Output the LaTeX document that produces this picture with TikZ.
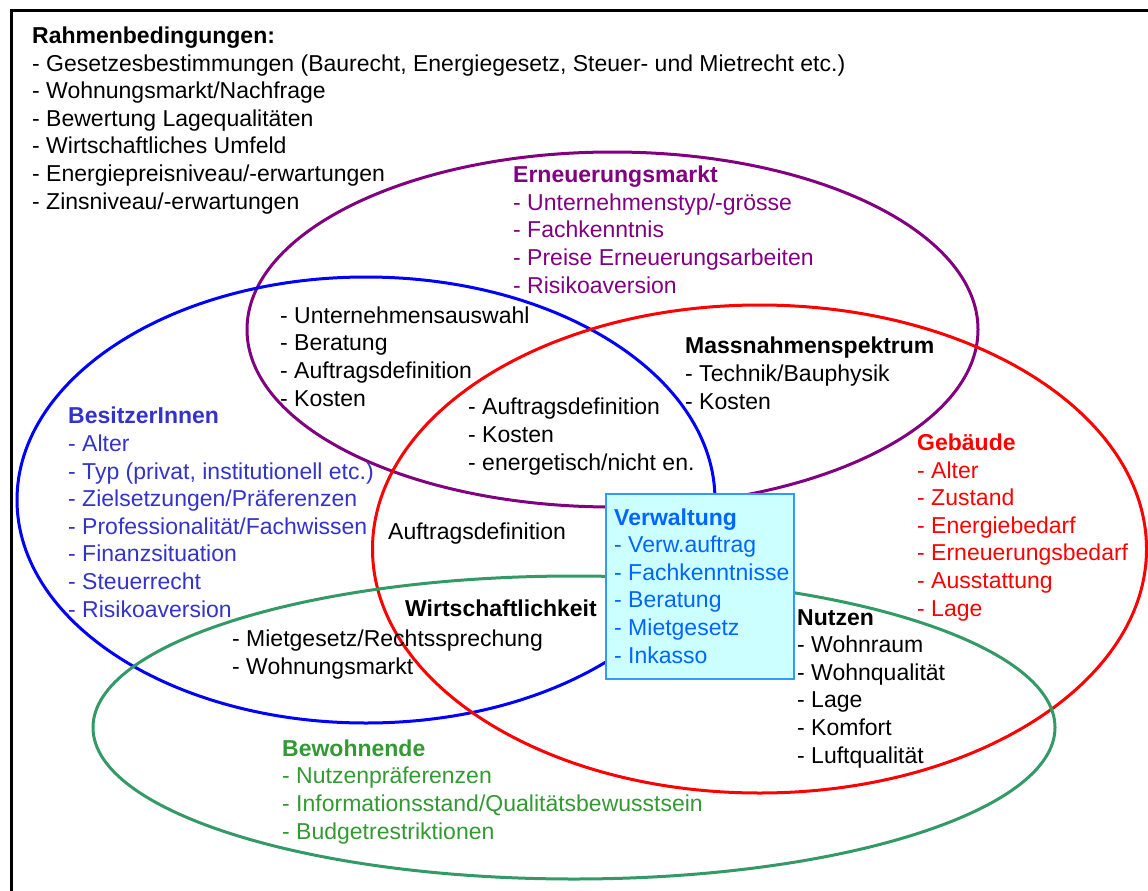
\documentclass[tikz,border=0pt]{standalone}
\usepackage{fontspec}
\setmainfont{Liberation Sans}
\usetikzlibrary{positioning,
                shapes.geometric}            % ellipse nodes

\definecolor{markt}{RGB}{128,0,128}
\definecolor{besitz}{RGB}{0,0,255}
\definecolor{besitztext}{RGB}{51,51,204}
\definecolor{bewohn}{RGB}{51,153,102}
\definecolor{bewohntext}{RGB}{51,153,51}
\definecolor{verwtext}{RGB}{0,102,255}
\definecolor{verwrand}{RGB}{51,153,255}
\definecolor{verwfill}{RGB}{204,255,255}

\tikzset{
  zone/.style={ellipse, draw, line width=3pt, inner sep=0pt},
  % base = Grundlinie der letzten Zeile
  liste/.style={anchor=base west, inner sep=0pt, align=left,
                font=\fontsize{23}{27.6}\selectfont},
}

\begin{document}
\begin{tikzpicture}[x=1pt, y=-1pt]
        \useasboundingbox (0,0) rectangle (1148,891);
        \clip (0,0) rectangle (1148,891);
        \draw[line width=3pt] (11,11) rectangle (1160,900);

        % die vier Bereiche
        \node[zone, draw=markt, minimum width=731pt, minimum height=355pt] (erneuerung) at (612.5,329.5) {};
        \node[zone, draw=besitz, minimum width=698pt, minimum height=446pt] (besitzer) at (366,500) {};
        \node[zone, draw=red, minimum width=774pt, minimum height=488pt] (gebaeude) at (759.5,549) {};
        \node[zone, draw=bewohn, minimum width=962pt, minimum height=303pt] (bewohnende) at (574,727.5) {};

        \node[liste] (rahmen) at (32,209) {\textbf{Rahmenbedingungen:}\\
          - Gesetzesbestimmungen (Baurecht, Energiegesetz, Steuer- und Mietrecht etc.)\\
          - Wohnungsmarkt/Nachfrage\\
          - Bewertung Lagequalitäten\\
          - Wirtschaftliches Umfeld\\
          - Energiepreisniveau/-erwartungen\\
          - Zinsniveau/-erwartungen};

        \node[liste, text=markt] (markttext) at (513,293) {\textbf{Erneuerungsmarkt}\\
          - Unternehmenstyp/-grösse\\
          - Fachkenntnis\\
          - Preise Erneuerungsarbeiten\\
          - Risikoaversion};

        \node[liste] (auswahl) at (280,406) {- Unternehmensauswahl\\
          - Beratung\\
          - Auftragsdefinition\\
          - Kosten};

        \node[liste] (mitte) at (468,470) {- Auftragsdefinition\\
          - Kosten\\
          - energetisch/nicht en.};

        \node[liste] (massnahmen) at (685,409) {\textbf{Massnahmenspektrum}\\
          - Technik/Bauphysik\\
          - Kosten};

        \node[liste, text=besitztext] (besitzertext) at (68,617) {\textbf{BesitzerInnen}\\
          - Alter\\
          - Typ (privat, institutionell etc.)\\
          - Zielsetzungen/Präferenzen\\
          - Professionalität/Fachwissen\\
          - Finanzsituation\\
          - Steuerrecht\\
          - Risikoaversion};

        \node[liste, text=red] (gebaeudetext) at (917,616) {\textbf{Gebäude}\\
          - Alter\\
          - Zustand\\
          - Energiebedarf\\
          - Erneuerungsbedarf\\
          - Ausstattung\\
          - Lage};

        \node[liste] (auftrag) at (388,539) {Auftragsdefinition};
        \node[liste] (wirtschaft) at (405,616) {\textbf{Wirtschaftlichkeit}};
        \node[liste] (mietrecht) at (232,674) {- Mietgesetz/Rechtssprechung\\
          - Wohnungsmarkt};

        \node[liste] (nutzen) at (797,763) {\textbf{Nutzen}\\
          - Wohnraum\\
          - Wohnqualität\\
          - Lage\\
          - Komfort\\
          - Luftqualität};

        \node[liste, text=bewohntext] (bewohntext) at (282,839) {\textbf{Bewohnende}\\
          - Nutzenpräferenzen\\
          - Informationsstand/Qualitätsbewusstsein\\
          - Budgetrestriktionen};

        % Verwaltung
        \node[draw=verwrand, fill=verwfill, line width=2pt, anchor=north west,
              minimum width=188pt, minimum height=185pt, inner sep=0pt] (verwaltung) at (605,493) {};
        \node[liste, text=verwtext] (verwtext) at (614,663) {\textbf{Verwaltung}\\
          - Verw.auftrag\\
          - Fachkenntnisse\\
          - Beratung\\
          - Mietgesetz\\
          - Inkasso};

    \end{tikzpicture}
\end{document}
